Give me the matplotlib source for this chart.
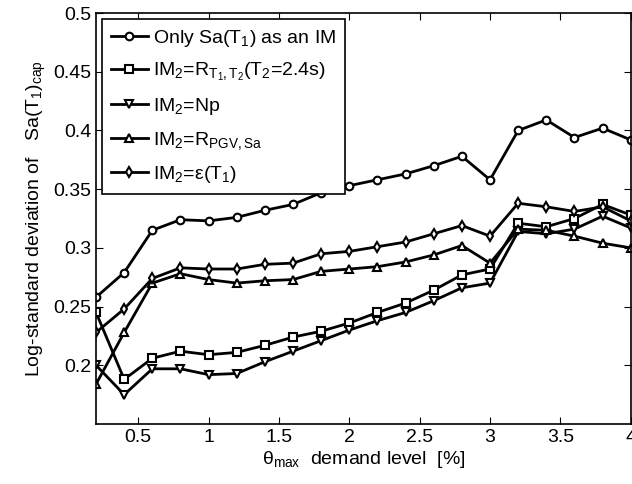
import numpy as np
import matplotlib
matplotlib.use("Agg")
import matplotlib.pyplot as plt

plt.rcParams["font.family"] = ["Liberation Sans", "DejaVu Sans"]
plt.rcParams["mathtext.fontset"] = "custom"
plt.rcParams["mathtext.rm"] = "Liberation Sans"
plt.rcParams["mathtext.it"] = "Liberation Sans"
plt.rcParams["mathtext.default"] = "regular"

#%% data
drift = [0.2, 0.4, 0.6, 0.8, 1.0, 1.2, 1.4, 1.6, 1.8, 2.0,
         2.2, 2.4, 2.6, 2.8, 3.0, 3.2, 3.4, 3.6, 3.8, 4.0]
only_sa = [0.258, 0.279, 0.315, 0.324, 0.323, 0.326, 0.332, 0.337, 0.347, 0.353,
           0.358, 0.363, 0.370, 0.378, 0.358, 0.400, 0.409, 0.394, 0.402, 0.392]
r_t1t2 = [0.245, 0.188, 0.206, 0.212, 0.209, 0.211, 0.217, 0.224, 0.229, 0.236,
          0.245, 0.253, 0.264, 0.277, 0.282, 0.321, 0.318, 0.325, 0.337, 0.328]
np_im = [0.200, 0.175, 0.197, 0.197, 0.192, 0.193, 0.203, 0.212, 0.221, 0.230,
         0.238, 0.245, 0.255, 0.266, 0.270, 0.314, 0.312, 0.316, 0.327, 0.317]
r_pgv = [0.184, 0.228, 0.270, 0.278, 0.273, 0.270, 0.272, 0.273, 0.280, 0.282,
         0.284, 0.288, 0.294, 0.302, 0.287, 0.316, 0.315, 0.310, 0.304, 0.300]
eps = [0.228, 0.248, 0.274, 0.283, 0.282, 0.282, 0.286, 0.287, 0.295, 0.297,
       0.301, 0.305, 0.312, 0.319, 0.310, 0.338, 0.335, 0.331, 0.335, 0.323]

series = [
    (only_sa, "o", r"Only Sa(T$_1$) as an IM"),
    (r_t1t2, "s", r"IM$_2$=R$_{T_1,T_2}$(T$_2$=2.4s)"),
    (np_im, "v", r"IM$_2$=Np"),
    (r_pgv, "^", r"IM$_2$=R$_{PGV,Sa}$"),
    (eps, "d", r"IM$_2$=$\varepsilon$(T$_1$)"),
]

#%%
fig = plt.figure(figsize=(6.32, 4.84), dpi=100)
ax = fig.add_axes([0.152, 0.124, 0.846, 0.849])

for vals, mk, lab in series:
    ax.plot(drift, vals, "-", color="black", lw=2, marker=mk, ms=5.5,
            mfc="white", mec="black", mew=1.5, label=lab)

ax.set_xlim(0.2, 4)
ax.set_ylim(0.15, 0.5)
ax.set_xticks(np.arange(0.5, 4.01, 0.5))
ax.set_xticklabels(["0.5", "1", "1.5", "2", "2.5", "3", "3.5", "4"])
ax.set_yticks(np.arange(0.2, 0.501, 0.05))
ax.set_yticklabels(["0.2", "0.25", "0.3", "0.35", "0.4", "0.45", "0.5"])
ax.tick_params(direction="in", top=True, right=True, labelsize=14, length=5)
for s in ax.spines.values():
    s.set_linewidth(1.2)

ax.set_xlabel(r"$\theta_{max}$  demand level  [%]", fontsize=14, labelpad=2)
ax.set_ylabel(r"Log-standard deviation of   Sa(T$_1$)$_{cap}$", fontsize=14, labelpad=4)

leg = ax.legend(loc="upper left", fontsize=14, frameon=True, fancybox=False,
                framealpha=1, edgecolor="black", handlelength=1.9,
                borderaxespad=0.3, labelspacing=0.65, handletextpad=0.3,
                borderpad=0.45)
leg.get_frame().set_linewidth(1.2)

fig.savefig("out.png", dpi=100)
